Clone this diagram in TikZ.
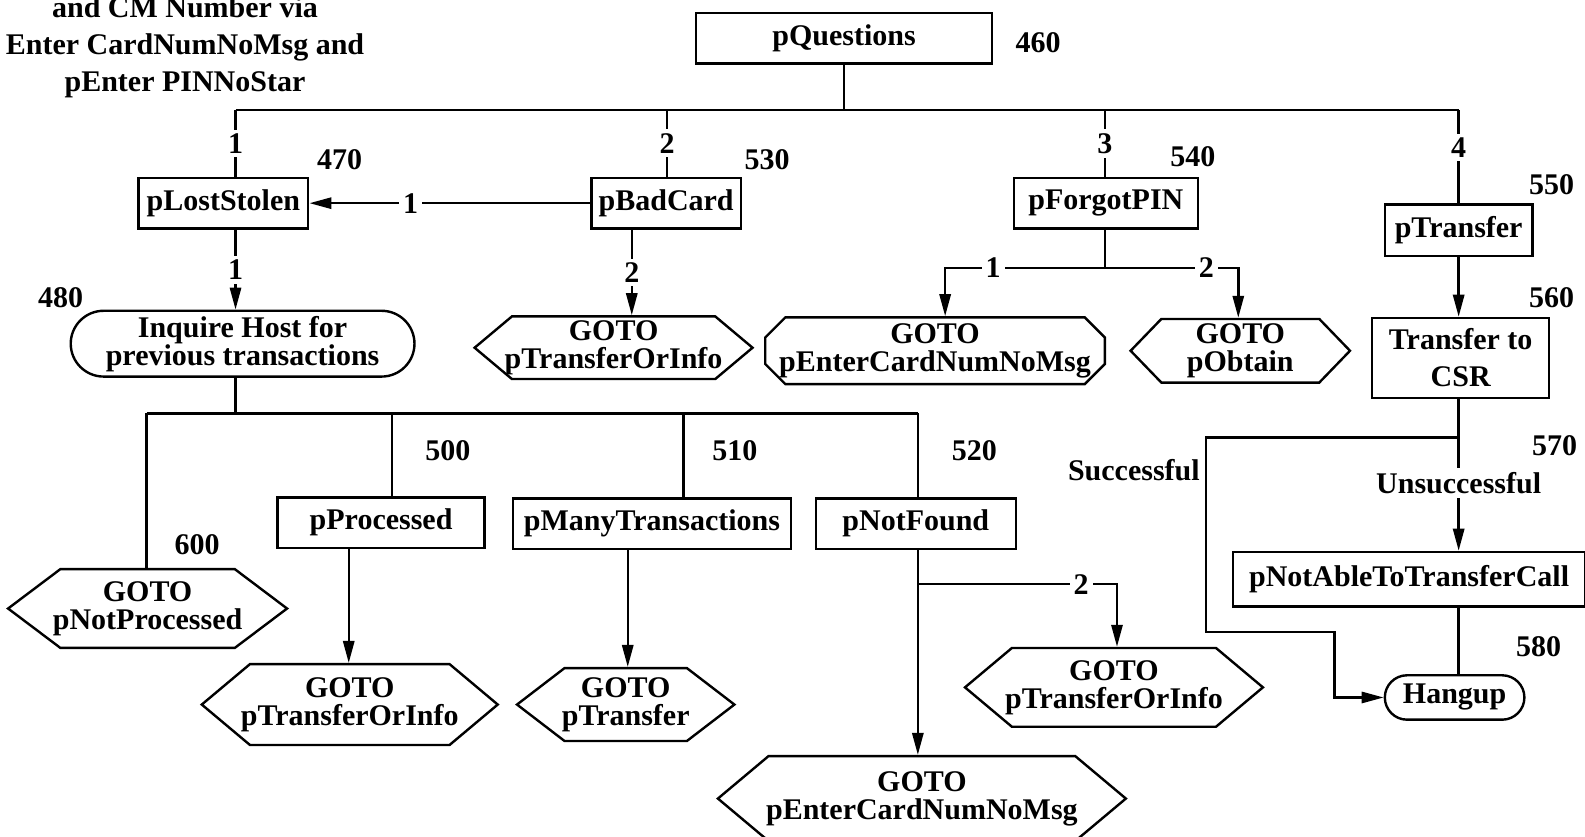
\documentclass[tikz,border=0pt]{standalone}
\usepackage{fontspec}
\setmainfont{Liberation Serif}
\usetikzlibrary{positioning, arrows.meta, shapes.misc, shapes.symbols}

\begin{document}
\begin{tikzpicture}[
  x=0.5055pt, y=-0.5055pt,
  >={Triangle[length=11pt, width=5.6pt]},
  font=\fontsize{15}{14}\selectfont\bfseries,
  line width=1.2pt,
  box/.style={draw, rectangle, inner sep=0pt, align=center, minimum height=25.3pt},
  stadium/.style={draw, rounded rectangle, inner sep=0pt, align=center},
  hexa/.style={draw, signal, signal to=west and east, signal pointer angle=80, inner ysep=0pt, inner xsep=-10pt, align=center},
  octa/.style={draw, chamfered rectangle, chamfered rectangle xsep=7pt, inner sep=0pt, align=center},
  num/.style={inner sep=0pt},
  tag/.style={fill=white, inner sep=2pt}
]
  \useasboundingbox (0,0) rectangle (1568,828);

  % note cut off at the top left
  \node[num, align=center, font=\fontsize{15}{18.5}\selectfont\bfseries] (note) at (183,47)
    {and CM Number via\\Enter CardNumNoMsg and\\pEnter PINNoStar};

  % top menu
  \node[box, minimum width=148.1pt] (questions) at (835,38) {pQuestions};
  \node[num] (n460) at (1027,42) {460};

  \node[box, minimum width=84.9pt] (lostStolen) at (221,201) {pLostStolen};
  \node[num] (n470) at (336,158) {470};
  \node[box, minimum width=74.8pt] (badCard) at (659,201) {pBadCard};
  \node[num] (n530) at (759,158) {530};
  \node[box, minimum width=92pt] (forgotPIN) at (1094,201) {pForgotPIN};
  \node[num] (n540) at (1180,155) {540};
  \node[box, minimum width=73.8pt, minimum height=25.8pt] (transfer) at (1443,228) {pTransfer};
  \node[num] (n550) at (1535,183) {550};

  % second row
  \node[hexa, minimum width=139pt, minimum height=31.3pt] (gotoInfoA) at (607,344) {GOTO\\pTransferOrInfo};
  \node[stadium, minimum width=171.9pt, minimum height=32.9pt] (inquire) at (240,340) {Inquire Host for\\previous transactions};
  \node[num] (n480) at (60,294) {480};
  \node[octa, minimum width=166.8pt, minimum height=32.9pt] (gotoEnterA) at (925,347) {GOTO\\pEnterCardNumNoMsg};
  \node[hexa, signal pointer angle=92, minimum width=109.7pt, minimum height=31.8pt] (gotoObtain) at (1227,347) {GOTO\\pObtain};
  \node[box, minimum width=88.5pt, minimum height=39.9pt] (csr) at (1445,354) {Transfer to\\[4.5pt]CSR};
  \node[num] (n560) at (1535,294) {560};

  % results of the host inquiry
  \node[box, minimum width=103.6pt] (processed) at (377,517) {pProcessed};
  \node[num] (n500) at (443,446) {500};
  \node[box, minimum width=139pt] (manyTrans) at (645,518) {pManyTransactions};
  \node[num] (n510) at (727,446) {510};
  \node[box, minimum width=100pt] (notFound) at (906,518) {pNotFound};
  \node[num] (n520) at (964,446) {520};
  \node[hexa, signal pointer angle=74, minimum width=139.5pt, minimum height=39.4pt] (gotoNotProc) at (146,602) {GOTO\\pNotProcessed};
  \node[num] (n600) at (195,539) {600};
  \node[hexa, minimum width=148pt, minimum height=40.4pt] (gotoInfoB) at (346,697) {GOTO\\pTransferOrInfo};
  \node[hexa, signal pointer angle=75, minimum width=108.7pt, minimum height=36.4pt] (gotoTransfer) at (619,697) {GOTO\\pTransfer};
  \node[hexa, minimum width=204pt, minimum height=42.5pt] (gotoEnterB) at (912,790) {GOTO\\pEnterCardNumNoMsg};
  \node[hexa, minimum width=149pt, minimum height=39.4pt] (gotoInfoC) at (1102,680) {GOTO\\pTransferOrInfo};

  % transfer outcome
  \node[box, minimum width=175.9pt, minimum height=27.3pt] (notAble) at (1394,573) {pNotAbleToTransferCall};
  \node[num] (n570) at (1538,441) {570};
  \node[stadium, minimum width=69.8pt, minimum height=22.2pt] (hangup) at (1439,690) {Hangup};
  \node[num] (n580) at (1522,640) {580};
  \node[num, anchor=east] (succ) at (1188,465) {Successful};

  % columns of the connectors
  \coordinate (busL) at (233,109);
  \coordinate (busB) at (660,109);
  \coordinate (busF) at (1093,109);
  \coordinate (busR) at (1443,109);
  \coordinate (colBad) at (625,0);
  \coordinate (fork) at (1093,265);
  \coordinate (forkL) at (935,265);
  \coordinate (forkR) at (1225,265);
  \coordinate (split) at (1443,433);
  \coordinate (succA) at (1193,433);
  \coordinate (succB) at (1193,625);
  \coordinate (succC) at (1320,625);
  \coordinate (hostL) at (145,409);
  \coordinate (hostR) at (908,409);
  \coordinate (tapProc) at (388,409);
  \coordinate (tapMany) at (676,409);
  \coordinate (colProc) at (345,0);
  \coordinate (colMany) at (621,0);
  \coordinate (nfFork) at (908,578);
  \coordinate (nfRight) at (1105,578);

  % menu bus
  \draw (questions.south) -- (questions.south |- busL);
  \draw (busL) -- (busR);
  \draw (busL) -- node[tag]{1} (busL |- lostStolen.north);
  \draw (busB) -- node[tag]{2} (busB |- badCard.north);
  \draw (busF) -- node[tag]{3} (busF |- forgotPIN.north);
  \draw (busR) -- node[tag, pos=0.4]{4} (busR |- transfer.north);

  \draw[->] (badCard.west) -- node[tag, pos=0.64]{1} (lostStolen.east);
  \draw[->] (colBad |- badCard.south) -- node[tag]{2} (colBad |- gotoInfoA.north);
  \draw[->] (busL |- lostStolen.south) -- node[tag]{1} (busL |- inquire.north);

  \draw (forgotPIN.south -| fork) -- (fork);
  \draw[->] (fork) -- node[tag, pos=0.7]{1} (forkL) -- (forkL |- gotoEnterA.north);
  \draw[->] (fork) -- node[tag, pos=0.76]{2} (forkR) -- (forkR |- gotoObtain.north);

  \draw[->] (transfer.south -| busR) -- (busR |- csr.north);
  \draw (csr.south -| split) -- (split);
  \draw[->] (split) -- node[tag, pos=0.4]{Unsuccessful} (split |- notAble.north);
  \draw[->] (split) -- (succA) -- (succB) -- (succC) |- (hangup.west);
  \draw (notAble.south -| split) -- (split |- hangup.north);

  % host inquiry bus
  \draw (busL |- inquire.south) -- (busL |- hostL);
  \draw (hostL) -- (hostR);
  \draw (hostL) -- (hostL |- gotoNotProc.north);
  \draw (tapProc) -- (tapProc |- processed.north);
  \draw (tapMany) -- (tapMany |- manyTrans.north);
  \draw (hostR) -- (hostR |- notFound.north);

  \draw[->] (colProc |- processed.south) -- (colProc |- gotoInfoB.north);
  \draw[->] (colMany |- manyTrans.south) -- (colMany |- gotoTransfer.north);
  \draw[->] (hostR |- notFound.south) -- (hostR |- gotoEnterB.north);
  \draw[->] (nfFork) -- node[tag, pos=0.82]{2} (nfRight) -- (nfRight |- gotoInfoC.north);
\end{tikzpicture}
\end{document}
